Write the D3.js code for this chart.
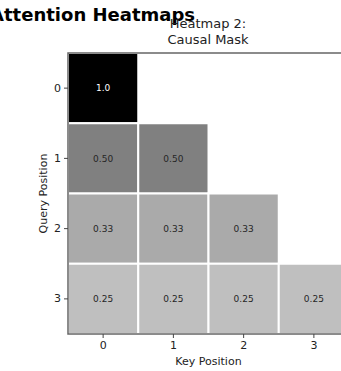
<!DOCTYPE html>
<html>
<head>
<meta charset="utf-8">
<style>
  body { margin: 0; background: #fff; }
  text { font-family: "DejaVu Sans", sans-serif; }
</style>
</head>
<body>
<div id="container"></div>
<script src="https://cdn.jsdelivr.net/npm/d3@7"></script>
<script>
    // Data
    let keys = [0, 1, 2, 3];
    let queries = [0, 1, 2, 3];
    // causal mask attention weights, null = masked
    let weights = [
        [1.00, null, null, null],
        [0.50, 0.50, null, null],
        [1 / 3, 1 / 3, 1 / 3, null],
        [0.25, 0.25, 0.25, 0.25]
    ];
    let labels = [
        ["1.0", "", "", ""],
        ["0.50", "0.50", "", ""],
        ["0.33", "0.33", "0.33", ""],
        ["0.25", "0.25", "0.25", "0.25"]
    ];

    let W = 341, H = 371;
    let margin = { top: 53, left: 68 };
    let plotW = 281, plotH = 281;

    let svg = d3.select("#container")
        .append("svg")
        .attr("width", W)
        .attr("height", H);

    // Suptitle (cut at the left edge, as in the figure)
    svg.append("text")
        .attr("x", 195)
        .attr("y", 21)
        .attr("text-anchor", "end")
        .attr("font-size", 18)
        .attr("font-weight", "bold")
        .text("Attention Heatmaps");

    let g = svg.append("g")
        .attr("transform", `translate(${margin.left}, ${margin.top})`);

    let x = d3.scaleBand().domain(keys).range([0, plotW]);
    let y = d3.scaleBand().domain(queries).range([0, plotH]);
    let color = d3.scaleLinear().domain([0, 1]).range(["#ffffff", "#000000"]);

    let cells = [];
    weights.forEach((row, i) => row.forEach((v, j) => {
        if (v !== null) cells.push({ q: queries[i], k: keys[j], v: v, label: labels[i][j] });
    }));

    g.selectAll("rect.cell")
        .data(cells)
        .enter()
        .append("rect")
        .attr("class", "cell")
        .attr("x", d => x(d.k))
        .attr("y", d => y(d.q))
        .attr("width", x.bandwidth())
        .attr("height", y.bandwidth())
        .attr("fill", d => color(d.v))
        .attr("stroke", "#fff")
        .attr("stroke-width", 2);

    g.selectAll("text.annot")
        .data(cells)
        .enter()
        .append("text")
        .attr("class", "annot")
        .attr("x", d => x(d.k) + x.bandwidth() / 2)
        .attr("y", d => y(d.q) + y.bandwidth() / 2)
        .attr("dy", "0.35em")
        .attr("text-anchor", "middle")
        .attr("font-size", 9)
        .attr("fill", d => d.v > 0.6 ? "#fff" : "#262626")
        .text(d => d.label);

    // Spines
    g.append("rect")
        .attr("x", 0)
        .attr("y", 0)
        .attr("width", plotW)
        .attr("height", plotH)
        .attr("fill", "none")
        .attr("stroke", "#666")
        .attr("stroke-width", 1.5);

    // Axes
    let xAxis = g.append("g")
        .attr("transform", `translate(0, ${plotH})`)
        .call(d3.axisBottom(x).tickSize(4).tickPadding(3));
    let yAxis = g.append("g")
        .call(d3.axisLeft(y).tickSize(4).tickPadding(3));
    [xAxis, yAxis].forEach(a => {
        a.select(".domain").remove();
        a.selectAll(".tick line").attr("stroke", "#444");
        a.selectAll(".tick text")
            .attr("font-family", "DejaVu Sans, sans-serif")
            .attr("font-size", 11)
            .attr("fill", "#222");
    });

    // Title and axis labels
    let title = svg.append("text")
        .attr("x", margin.left + plotW / 2 - 0.5)
        .attr("y", 28)
        .attr("text-anchor", "middle")
        .attr("font-size", 13)
        .attr("fill", "#222");
    title.append("tspan").attr("x", margin.left + plotW / 2 - 0.5).attr("dy", 0).text("Heatmap 2:");
    title.append("tspan").attr("x", margin.left + plotW / 2 - 0.5).attr("dy", 16).text("Causal Mask");

    svg.append("text")
        .attr("x", margin.left + plotW / 2)
        .attr("y", 365)
        .attr("text-anchor", "middle")
        .attr("font-size", 11)
        .attr("fill", "#222")
        .text("Key Position");

    svg.append("text")
        .attr("transform", `translate(47, ${margin.top + plotH / 2}) rotate(-90)`)
        .attr("text-anchor", "middle")
        .attr("font-size", 11)
        .attr("fill", "#222")
        .text("Query Position");
</script>
</body>
</html>
